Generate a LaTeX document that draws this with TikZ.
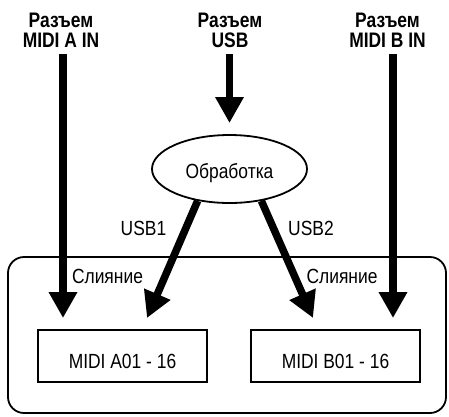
\documentclass[tikz,border=0pt]{standalone}
\usepackage{fontspec}
\setmainfont{Liberation Sans}[FakeStretch=0.85]
\newfontfamily\ttlfont{Liberation Sans}[FakeStretch=0.83]
\usetikzlibrary{arrows.meta,shapes.geometric}
\tikzset{
  ttl/.style={font=\ttlfont\bfseries\fontsize{21}{20.5}\selectfont, align=center, anchor=south, inner sep=0pt},
  lbl/.style={font=\fontsize{20.5}{22}\selectfont, anchor=base, inner sep=0pt},
  bigarrow/.style={line width=7.5pt, -{Triangle[length=26pt,width=27pt]}},
  chanbox/.style={draw, line width=1.8pt, minimum width=169pt, minimum height=52pt,
    font=\fontsize{20.5}{22}\selectfont, text height=24pt, text depth=0pt, inner sep=0pt},
  procnode/.style={ellipse, draw, line width=1.8pt, minimum width=155pt, minimum height=68pt,
    font=\fontsize{20.5}{22}\selectfont, text height=18pt, text depth=0pt, inner sep=0pt},
  framebox/.style={draw, rounded corners=16pt, line width=1.8pt, minimum width=438pt, minimum height=156pt, inner sep=0pt}
}
\begin{document}
\begin{tikzpicture}[x=1pt,y=-1pt]
\useasboundingbox (0,0) rectangle (449,416);
% frame
\node[framebox] (frame) at (227,335) {};
% titles
\node[ttl] (tA) at (61,48) {Разъем\\MIDI A IN};
\node[ttl] (tU) at (230,48) {Разъем\\USB};
\node[ttl] (tB) at (387.5,48) {Разъем\\MIDI B IN};
% process
\node[procnode] (proc) at (229.5,169) {Обработка};
% boxes
\node[chanbox] (boxA) at (122.5,356) {MIDI A01 - 16};
\node[chanbox] (boxB) at (335.5,356) {MIDI B01 - 16};
% labels
\node[lbl] (usb1) at (143.5,235) {USB1};
\node[lbl] (usb2) at (311,235) {USB2};
\node[lbl] (mrgA) at (107.5,283) {Слияние};
\node[lbl] (mrgB) at (342,283) {Слияние};
% arrow endpoints
\coordinate (sA) at (63,54);
\coordinate (eA) at (63,318);
\coordinate (sU) at (229.5,54);
\coordinate (eU) at (229.5,123);
\coordinate (sB) at (393,54);
\coordinate (eB) at (393,318);
\coordinate (eA2) at (147,318);
\coordinate (eB2) at (313,318);
% arrows
\draw[bigarrow] (sA) -- (eA);
\draw[bigarrow] (sB) -- (eB);
\draw[bigarrow] (sU) -- (eU);
\draw[bigarrow] (proc.225) -- (eA2);
\draw[bigarrow] (proc.315) -- (eB2);
\end{tikzpicture}
\end{document}
